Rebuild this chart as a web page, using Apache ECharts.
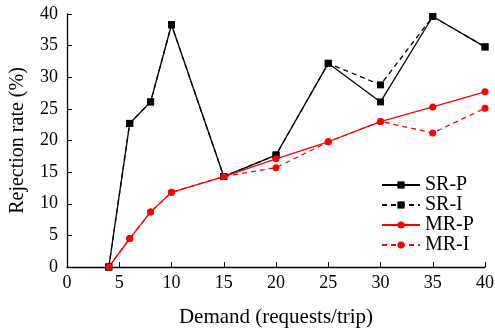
<!DOCTYPE html>
<html>
<head>
<meta charset="utf-8" />
<title>Rejection rate</title>
<style type="text/css">
  html, body {height:100%; margin:0; padding:0; background:#fff;}
  #main {width:495px; height:332px;}
</style>
<script type="text/javascript" src="https://cdn.jsdelivr.net/npm/echarts@6/dist/echarts.min.js"></script>
</head>
<body>
<div id="main"></div>
<script type="text/javascript">
var demand = [4, 6, 8, 10, 15, 20, 25, 30, 35, 40];
var srP = [0, 22.7, 26.1, 38.3, 14.3, 17.7, 32.2, 26.1, 39.6, 34.8];
var srI = [0, 22.7, 26.1, 38.3, 14.3, 17.7, 32.2, 28.8, 39.6, 34.8];
var mrP = [0, 4.5, 8.7, 11.8, 14.3, 17.1, 19.8, 23.0, 25.3, 27.7];
var mrI = [0, 4.5, 8.7, 11.8, 14.3, 15.7, 19.8, 23.0, 21.2, 25.1];

function pairs(ys) {
  return demand.map(function (x, i) { return [x, ys[i]]; });
}

var font = '"Liberation Serif", "Times New Roman", serif';

function line(name, ys, color, dashed, symbol, size) {
  return {
    name: name,
    type: 'line',
    data: pairs(ys),
    symbol: symbol,
    symbolSize: size,
    showAllSymbol: true,
    z: dashed ? 2 : 3,
    lineStyle: {color: color, width: 1.3, type: dashed ? [5, 4] : 'solid'},
    itemStyle: {color: color}
  };
}

var myChart = echarts.init(document.getElementById('main'));
myChart.setOption({
  animation: false,
  grid: {left: 67, right: 10, top: 14, bottom: 65, containLabel: false, outerBoundsMode: 'none'},
  legend: {
    orient: 'vertical',
    left: 376,
    top: 170,
    itemWidth: 38,
    itemHeight: 9,
    itemGap: 0,
    textStyle: {fontFamily: font, fontSize: 20, color: '#000', lineHeight: 18.3},
    data: ['SR-P', 'SR-I', 'MR-P', 'MR-I']
  },
  xAxis: {
    type: 'value',
    min: 0, max: 40, interval: 5,
    name: 'Demand (requests/trip)',
    nameLocation: 'middle',
    nameGap: 40,
    nameTextStyle: {fontFamily: font, fontSize: 21, color: '#000'},
    axisLine: {lineStyle: {color: '#000', width: 1.3}},
    axisTick: {inside: true, length: 5, lineStyle: {color: '#000'}},
    axisLabel: {fontFamily: font, fontSize: 18, color: '#000', margin: 7},
    splitLine: {show: false}
  },
  yAxis: {
    type: 'value',
    min: 0, max: 40, interval: 5,
    name: 'Rejection rate (%)',
    nameLocation: 'middle',
    nameGap: 39,
    nameTextStyle: {fontFamily: font, fontSize: 20, color: '#000'},
    axisLine: {show: true, lineStyle: {color: '#000', width: 1.3}},
    axisTick: {show: true, inside: true, length: 5, lineStyle: {color: '#000'}},
    axisLabel: {fontFamily: font, fontSize: 18, color: '#000', margin: 9},
    splitLine: {show: false}
  },
  series: [
    line('SR-P', srP, '#000', false, 'rect', 7),
    line('SR-I', srI, '#000', true, 'rect', 7),
    line('MR-P', mrP, '#f00', false, 'circle', 7),
    line('MR-I', mrI, '#f00', true, 'circle', 7)
  ]
});
</script>
</body>
</html>
